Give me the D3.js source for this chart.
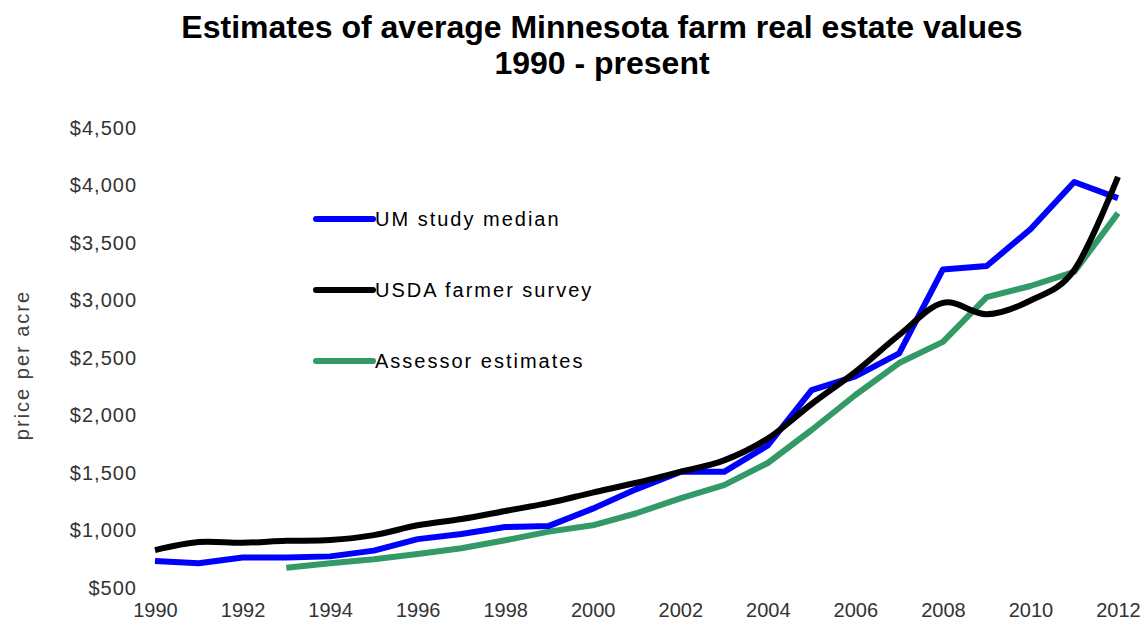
<!DOCTYPE html>
<html>
  <head>
    <meta charset="utf-8">
    <title>Minnesota farm real estate values</title>
    <script src="https://cdn.jsdelivr.net/npm/d3@7"></script>
    <style>
      body { margin: 0; background: #fff; font-family: "Liberation Sans", Arial, sans-serif; }
      .title { font-size: 32px; font-weight: bold; fill: #000; }
      .axis text { font-size: 20px; fill: #333; font-family: "Liberation Sans", Arial, sans-serif; }
      .y.axis text { letter-spacing: 1px; }
      .ylabel { font-size: 20px; fill: #404040; letter-spacing: 2px; }
      .legend text { font-size: 20px; fill: #000; letter-spacing: 2px; }
      .series { fill: none; stroke-width: 6px; stroke-linejoin: round; }
    </style>
  </head>
  <body>
    <svg id="chart" width="1146" height="620"></svg>
    <script>
      // chart data
      var years = d3.range(1990, 2013);
      var umMedian = [735, 715, 765, 765, 775, 825, 925, 970, 1030, 1040, 1190, 1360, 1510, 1510, 1740, 2220, 2340, 2540, 3270, 3300, 3620, 4030, 3890];
      var usdaSurvey = [830, 900, 893, 910, 917, 960, 1045, 1100, 1170, 1240, 1330, 1415, 1510, 1610, 1800, 2100, 2380, 2700, 2980, 2880, 3000, 3265, 4075];
      var assessorYears = d3.range(1993, 2013);
      var assessor = [676, 715, 750, 795, 845, 915, 990, 1045, 1150, 1280, 1395, 1587, 1874, 2178, 2456, 2640, 3030, 3126, 3248, 3760];
      var yTicks = [500, 1000, 1500, 2000, 2500, 3000, 3500, 4000, 4500];
      var xTicks = d3.range(1990, 2013, 2);
      var seriesNames = ["UM study median", "USDA farmer survey", "Assessor estimates"];
      var seriesColours = ["#0000ff", "#000000", "#339966"];

      var svg = d3.select("#chart");

      // scales
      var x = d3.scaleLinear().domain([1990, 2012]).range([155, 1118]);
      var y = d3.scaleLinear().domain([500, 4500]).range([588, 128]);

      // title
      var title = svg.append("text")
        .attr("class", "title")
        .attr("text-anchor", "middle")
        .attr("x", 602);
      title.append("tspan").attr("x", 602).attr("y", 38).text("Estimates of average Minnesota farm real estate values");
      title.append("tspan").attr("x", 602).attr("y", 74).text("1990 - present");

      // axes (no axis lines, only labels)
      svg.append("g")
        .attr("class", "y axis")
        .attr("transform", "translate(155,0)")
        .call(d3.axisLeft(y).tickValues(yTicks).tickSize(0).tickPadding(18).tickFormat(d3.format("$,")))
        .call(function(g) { g.select(".domain").remove(); });

      svg.append("g")
        .attr("class", "x axis")
        .attr("transform", "translate(0,588)")
        .call(d3.axisBottom(x).tickValues(xTicks).tickSize(0).tickPadding(15).tickFormat(d3.format("d")))
        .call(function(g) { g.select(".domain").remove(); });

      svg.append("text")
        .attr("class", "ylabel")
        .attr("text-anchor", "middle")
        .attr("transform", "translate(29,365) rotate(-90)")
        .text("price per acre");

      // lines
      var straight = d3.line()
        .x(function(d) { return x(d[0]); })
        .y(function(d) { return y(d[1]); });
      var smooth = d3.line()
        .x(function(d) { return x(d[0]); })
        .y(function(d) { return y(d[1]); })
        .curve(d3.curveCatmullRom.alpha(0));

      svg.append("path")
        .attr("class", "series")
        .attr("stroke", seriesColours[2])
        .attr("d", straight(d3.zip(assessorYears, assessor)));
      svg.append("path")
        .attr("class", "series")
        .attr("stroke", seriesColours[0])
        .attr("d", straight(d3.zip(years, umMedian)));
      svg.append("path")
        .attr("class", "series")
        .attr("stroke", seriesColours[1])
        .attr("d", smooth(d3.zip(years, usdaSurvey)));

      // legend
      var legend = svg.append("g").attr("class", "legend");
      var rows = legend.selectAll("g")
          .data(seriesNames)
        .enter().append("g")
          .attr("transform", function(d, i) { return "translate(316," + (219 + i * 71) + ")"; });
      rows.append("line")
        .attr("x1", 0).attr("x2", 57)
        .attr("stroke", function(d, i) { return seriesColours[i]; })
        .attr("stroke-width", 6)
        .attr("stroke-linecap", "round");
      rows.append("text")
        .attr("x", 59)
        .attr("dy", "0.36em")
        .text(function(d) { return d; });
    </script>
  </body>
</html>
